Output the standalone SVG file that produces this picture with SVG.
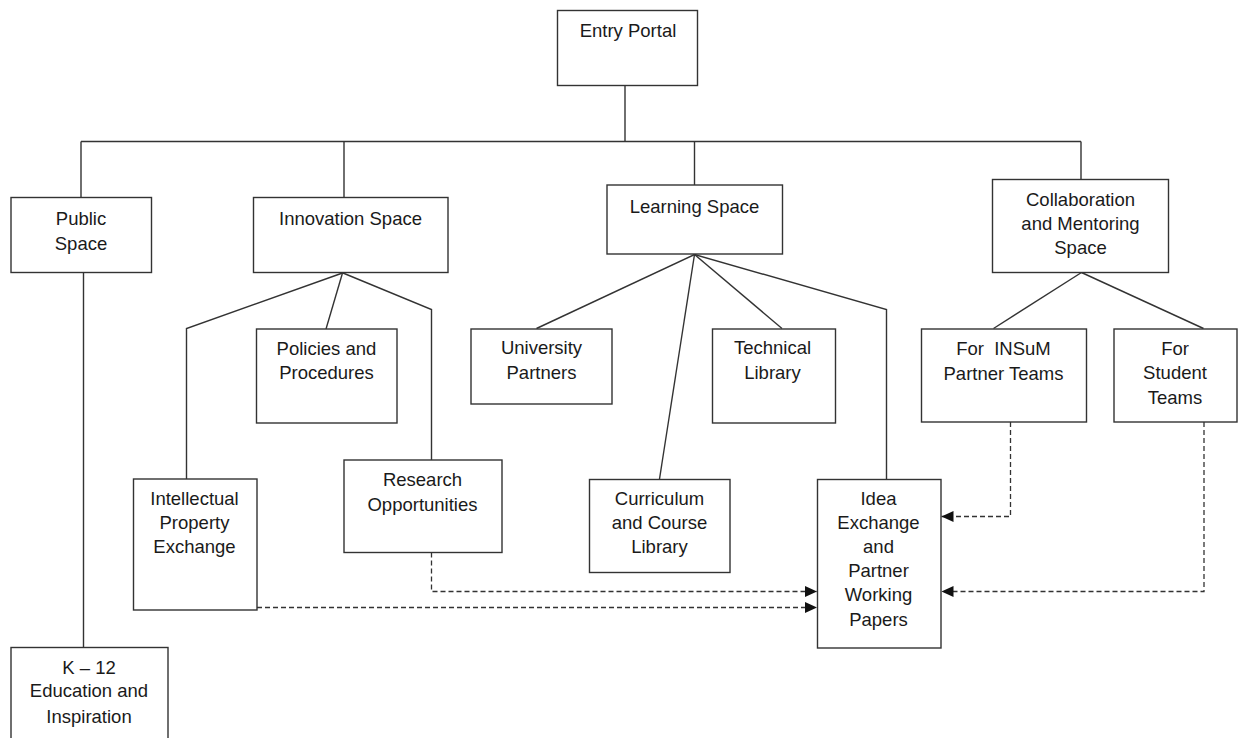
<svg xmlns="http://www.w3.org/2000/svg" width="1238" height="738" viewBox="0 0 1238 738">
  <style>
    .box { fill: #ffffff; stroke: #333333; stroke-width: 1.4; }
    .link { fill: none; stroke: #333333; stroke-width: 1.4; }
    .dash { fill: none; stroke: #333333; stroke-width: 1.3; stroke-dasharray: 5 3; }
    text { font-family: "Liberation Sans", Arial, sans-serif; font-size: 18.5px; fill: #1a1a1a; text-anchor: middle; }
  </style>
  <defs>
    <marker id="arrow" markerUnits="userSpaceOnUse" markerWidth="13" markerHeight="11" refX="12" refY="5.5" orient="auto">
      <path d="M0,0 L12,5.5 L0,11 Z" fill="#111111"/>
    </marker>
  </defs>
  <rect width="1238" height="738" fill="#ffffff"/>

  <g id="connectors">
    <!-- hierarchy -->
    <path class="link" d="M625,85 V141.5"/>
    <path class="link" d="M81,141.5 H1081"/>
    <path class="link" d="M81,141.5 V197.5"/>
    <path class="link" d="M344,141.5 V197.5"/>
    <path class="link" d="M694.5,141.5 V185"/>
    <path class="link" d="M1081,141.5 V179.5"/>
    <path class="link" d="M83.5,272.5 V647.5"/>
    <!-- innovation branches -->
    <path class="link" d="M342.5,273 L186.5,328.5 V479"/>
    <path class="link" d="M342.5,273 L326,329"/>
    <path class="link" d="M343,273 L431.5,309.5 V460"/>
    <!-- learning branches -->
    <path class="link" d="M694.5,254.5 L536.5,328.5"/>
    <path class="link" d="M694.5,254.5 L659.5,479"/>
    <path class="link" d="M694.5,254.5 L782,328.5"/>
    <path class="link" d="M694.5,254.5 L886.5,309.5 V479"/>
    <!-- collaboration branches -->
    <path class="link" d="M1081.5,272.5 L993.5,328.5"/>
    <path class="link" d="M1081.5,272.5 L1203.5,328.5"/>
    <!-- dashed feeds into working papers -->
    <path class="dash" d="M431.5,552.5 V591.5 H817" marker-end="url(#arrow)"/>
    <path class="dash" d="M257,607.5 H817" marker-end="url(#arrow)"/>
    <path class="dash" d="M1010.5,422 V516.5 H941.5" marker-end="url(#arrow)"/>
    <path class="dash" d="M1204,422 V591.5 H941.5" marker-end="url(#arrow)"/>
  </g>

  <g id="entry-portal">
    <rect class="box" x="557.5" y="10.5" width="140" height="75"/>
    <text x="628" y="37">Entry Portal</text>
  </g>

  <g id="public-space">
    <rect class="box" x="11" y="197.5" width="140.5" height="75"/>
    <text x="81" y="225">Public</text>
    <text x="81" y="249.5">Space</text>
  </g>

  <g id="innovation-space">
    <rect class="box" x="253.5" y="197.5" width="194.5" height="75"/>
    <text x="350.5" y="225">Innovation Space</text>
  </g>

  <g id="learning-space">
    <rect class="box" x="607" y="185" width="175.5" height="69"/>
    <text x="694.5" y="212.5">Learning Space</text>
  </g>

  <g id="collaboration-space">
    <rect class="box" x="992.5" y="179.5" width="176" height="93"/>
    <text x="1080.5" y="205.5">Collaboration</text>
    <text x="1080.5" y="229.5">and Mentoring</text>
    <text x="1080.5" y="254">Space</text>
  </g>

  <g id="policies">
    <rect class="box" x="256.5" y="329" width="140.5" height="94"/>
    <text x="326.5" y="354.5">Policies and</text>
    <text x="326.5" y="379">Procedures</text>
  </g>

  <g id="intellectual-property">
    <rect class="box" x="133.5" y="479" width="123.5" height="131"/>
    <text x="194.5" y="505">Intellectual</text>
    <text x="194.5" y="529">Property</text>
    <text x="194.5" y="553">Exchange</text>
  </g>

  <g id="research">
    <rect class="box" x="344" y="460" width="158" height="92.5"/>
    <text x="422.5" y="486">Research</text>
    <text x="422.5" y="511">Opportunities</text>
  </g>

  <g id="university-partners">
    <rect class="box" x="471" y="329" width="141" height="75"/>
    <text x="541.5" y="354">University</text>
    <text x="541.5" y="379">Partners</text>
  </g>

  <g id="technical-library">
    <rect class="box" x="712.5" y="329" width="123" height="94"/>
    <text x="772.5" y="354">Technical</text>
    <text x="772.5" y="379">Library</text>
  </g>

  <g id="curriculum">
    <rect class="box" x="589.5" y="479.5" width="140.5" height="93"/>
    <text x="659.5" y="505">Curriculum</text>
    <text x="659.5" y="529">and Course</text>
    <text x="659.5" y="553">Library</text>
  </g>

  <g id="idea-exchange">
    <rect class="box" x="817.5" y="479.5" width="123.5" height="168.5"/>
    <text x="878.5" y="505">Idea</text>
    <text x="878.5" y="529">Exchange</text>
    <text x="878.5" y="553">and</text>
    <text x="878.5" y="577">Partner</text>
    <text x="878.5" y="601">Working</text>
    <text x="878.5" y="625.5">Papers</text>
  </g>

  <g id="insum-teams">
    <rect class="box" x="921.5" y="329" width="165" height="93"/>
    <text x="1003.5" y="355" xml:space="preserve">For  INSuM</text>
    <text x="1003.5" y="379.5">Partner Teams</text>
  </g>

  <g id="student-teams">
    <rect class="box" x="1114" y="329" width="123" height="93"/>
    <text x="1175" y="355">For</text>
    <text x="1175" y="379">Student</text>
    <text x="1175" y="403.5">Teams</text>
  </g>

  <g id="k12">
    <rect class="box" x="11" y="647.5" width="157" height="100"/>
    <text x="89" y="674">K – 12</text>
    <text x="89" y="697">Education and</text>
    <text x="89" y="722.5">Inspiration</text>
  </g>
</svg>
